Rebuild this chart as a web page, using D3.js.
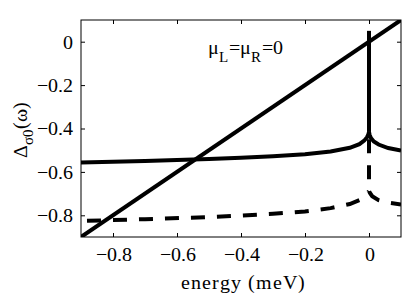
<!DOCTYPE html>
<html>
<head>
<meta charset="utf-8">
<style>
  @font-face { font-family: 'PlotSerif'; src: local('Liberation Serif'), local('LiberationSerif'), local('Times New Roman'); }
  svg text { font-family: 'PlotSerif', 'Liberation Serif', 'Times New Roman', 'DejaVu Serif'; }
</style>
<script src='https://d3js.org/d3.v7.min.js'></script>
</head>
<body style="margin:0">
<script>
const serif = "'PlotSerif', 'Liberation Serif', 'Times New Roman', 'DejaVu Serif'"

// x ticks / y ticks
const xTicks = [-0.8, -0.6, -0.4, -0.2, 0]
const yTicks = [0, -0.2, -0.4, -0.6, -0.8]

// diagonal line omega
const diagLine = [[-0.9, -0.9], [0.1, 0.1]]

// solid curve, left and right of zero, plus spike at zero
const solidLeft = [[-0.9, -0.557], [-0.7, -0.550], [-0.5, -0.541], [-0.4, -0.535], [-0.3, -0.528],
  [-0.2, -0.519], [-0.12, -0.506], [-0.06, -0.489], [-0.03, -0.472], [-0.015, -0.456],
  [-0.006, -0.440], [-0.002, -0.427], [0, -0.416]]
const solidRight = [[0, -0.416], [0.002, -0.430], [0.006, -0.444], [0.015, -0.460], [0.03, -0.474],
  [0.06, -0.490], [0.1, -0.502]]
const solidSpike = [[0, 0.05], [0, -0.416]]

// dashed curve
const dashLeft = [[-0.9, -0.826], [-0.7, -0.818], [-0.5, -0.808], [-0.4, -0.801], [-0.3, -0.793],
  [-0.2, -0.782], [-0.12, -0.767], [-0.06, -0.748], [-0.03, -0.730], [-0.012, -0.710],
  [-0.003, -0.695], [0, -0.688]]
const dashRight = [[0, -0.45], [0, -0.688], [0.003, -0.697], [0.01, -0.712], [0.03, -0.730],
  [0.06, -0.742], [0.1, -0.750]]

const margin = {top: 20, right: 8, bottom: 62, left: 81}
const width = 409 - margin.left - margin.right
const height = 299 - margin.top - margin.bottom

const svg = d3.select('body').append('svg')
  .attr('width', 409)
  .attr('height', 299)
  .style('font-family', serif)

const g = svg.append('g')
  .attr('transform', 'translate(' + margin.left + ',' + margin.top + ')')

const x = d3.scaleLinear().domain([-0.9, 0.1]).range([0, width])
const y = d3.scaleLinear().domain([-0.9, 0.1]).range([height, 0])

const fmt = d => d === 0 ? '0' : '\u2212' + d3.format('.1f')(Math.abs(d))

// axes, ticks inward, mirrored on top and right
g.append('g').attr('transform', 'translate(0,' + height + ')')
  .call(d3.axisBottom(x).tickValues(xTicks).tickSizeInner(-4).tickSizeOuter(0).tickPadding(10).tickFormat(fmt))
g.append('g')
  .call(d3.axisTop(x).tickValues(xTicks).tickSizeInner(-4).tickSizeOuter(0).tickFormat(''))
g.append('g')
  .call(d3.axisLeft(y).tickValues(yTicks).tickSizeInner(-4).tickSizeOuter(0).tickPadding(8).tickFormat(fmt))
g.append('g').attr('transform', 'translate(' + width + ',0)')
  .call(d3.axisRight(y).tickValues(yTicks).tickSizeInner(-4).tickSizeOuter(0).tickFormat(''))

// let the axis groups inherit the serif font
g.selectAll('g').attr('font-family', null).attr('font-size', null)
g.selectAll('.domain').remove()
g.selectAll('.tick line').attr('stroke', '#000')
g.selectAll('.tick text')
  .attr('font-size', 20)
  .style('font-family', serif)
  .attr('fill', '#000')

g.append('rect')
  .attr('width', width).attr('height', height)
  .attr('fill', 'none').attr('stroke', '#000').attr('stroke-width', 1)

g.append('clipPath').attr('id', 'clip')
  .append('rect').attr('width', width).attr('height', height)

const line = d3.line()
  .x(d => x(d[0]))
  .y(d => y(d[1]))

const plot = g.append('g').attr('clip-path', 'url(#clip)')

const solids = [diagLine, solidLeft, solidRight, solidSpike]
plot.selectAll('path.solid').data(solids).join('path')
  .attr('class', 'solid')
  .attr('d', line)
  .attr('fill', 'none')
  .attr('stroke', '#000')
  .attr('stroke-width', 4)

const dashes = [dashLeft, dashRight]
const offsets = [-6, 0]
plot.selectAll('path.dash').data(dashes).join('path')
  .attr('class', 'dash')
  .attr('d', line)
  .attr('fill', 'none')
  .attr('stroke', '#000')
  .attr('stroke-width', 4)
  .attr('stroke-dasharray', '14,12')
  .attr('stroke-dashoffset', (d, i) => offsets[i])

// annotation
const ann = g.append('text')
  .attr('x', 127).attr('y', 34)
  .attr('font-size', 20)
  .style('font-family', serif)
ann.append('tspan').text('\u03bc')
ann.append('tspan').attr('dy', 8).attr('font-size', 15).text('L')
ann.append('tspan').attr('dy', -8).attr('dx', 1).text('=\u03bc')
ann.append('tspan').attr('dy', 8).attr('font-size', 15).text('R')
ann.append('tspan').attr('dy', -8).attr('dx', 1).text('=0')

// x label
svg.append('text')
  .attr('x', margin.left + x(-0.4) + 2).attr('y', 289)
  .attr('text-anchor', 'middle')
  .attr('font-size', 20)
  .style('font-family', serif)
  .attr('letter-spacing', 1)
  .text('energy (meV)')

// y label
const yl = svg.append('text')
  .attr('transform', 'translate(27,130) rotate(-90)')
  .attr('text-anchor', 'middle')
  .attr('font-size', 20)
  .style('font-family', serif)
yl.append('tspan').text('\u0394')
yl.append('tspan').attr('dy', 6).attr('font-size', 15).text('\u03c30')
yl.append('tspan').attr('dy', -6).text('(\u03c9)')
</script>
</body>
</html>
